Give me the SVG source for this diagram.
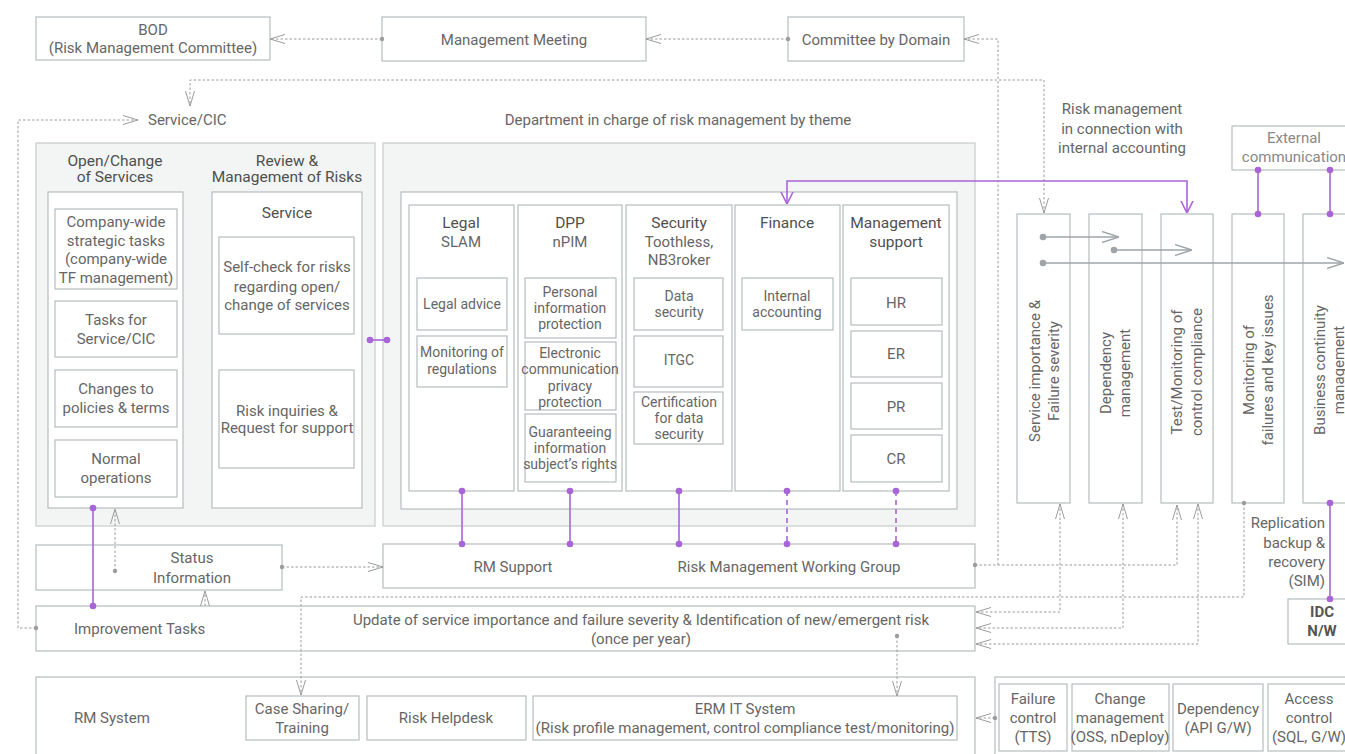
<svg xmlns="http://www.w3.org/2000/svg" width="1345" height="754" viewBox="0 0 1345 754">
<defs>
<style>
text{font-family:Roboto,"Noto Sans","Liberation Sans",sans-serif;font-size:15px;fill:#666;text-anchor:middle}
.s{font-size:14px}
.l{text-anchor:start}
.r{text-anchor:end}
.h{fill:#4f4f4f;font-size:15.5px}
.b{font-weight:700;fill:#555}
.box{fill:#fff;stroke:#b7bcbf;stroke-width:1.2}
.pan{fill:#f3f5f4;stroke:#c8cccc;stroke-width:1.2}
.d{fill:none;stroke:#9c9c9c;stroke-width:1;stroke-dasharray:2.5 2}
.g{fill:none;stroke:#9ea4a7;stroke-width:1.6}
.p{fill:none;stroke:#a865d8;stroke-width:1.6}
.pd{fill:none;stroke:#a865d8;stroke-width:1.6;stroke-dasharray:5 4}
</style>
<marker id="ah" viewBox="0 0 15 10" refX="15" refY="5" markerWidth="15" markerHeight="10" orient="auto-start-reverse" markerUnits="userSpaceOnUse"><path d="M0,0.5 L15,5 L0,9.5" fill="none" stroke="#9c9c9c" stroke-width="1"/></marker>
<marker id="ag" viewBox="0 0 17 12" refX="17" refY="6" markerWidth="17" markerHeight="12" orient="auto-start-reverse" markerUnits="userSpaceOnUse"><path d="M0,0.5 L17,6 L0,11.5" fill="none" stroke="#9ea4a7" stroke-width="1.4"/></marker>
<marker id="ap" viewBox="0 0 12 18" refX="12" refY="9" markerWidth="12" markerHeight="18" orient="auto-start-reverse" markerUnits="userSpaceOnUse"><path d="M0,3 L12,9 L0,15" fill="none" stroke="#a865d8" stroke-width="1.6"/></marker>
<marker id="dg" viewBox="0 0 6 6" refX="3" refY="3" markerWidth="6" markerHeight="6" markerUnits="userSpaceOnUse"><circle cx="3" cy="3" r="2.2" fill="#9c9c9c"/></marker>
<marker id="dg2" viewBox="0 0 8 8" refX="4" refY="4" markerWidth="8" markerHeight="8" markerUnits="userSpaceOnUse"><circle cx="4" cy="4" r="3.3" fill="#9ea4a7"/></marker>
<marker id="dp" viewBox="0 0 8 8" refX="4" refY="4" markerWidth="8" markerHeight="8" markerUnits="userSpaceOnUse"><circle cx="4" cy="4" r="3.3" fill="#a865d8"/></marker>
</defs>
<rect width="1345" height="754" fill="#fff"/>

<g id="bod"><rect class="box" x="36" y="17" width="234" height="43"/><text x="153" y="35">BOD</text><text x="153" y="53">(Risk Management Committee)</text></g>
<g id="mgmt-meeting"><rect class="box" x="382" y="17" width="264" height="44"/><text x="514" y="45">Management Meeting</text></g>
<g id="committee"><rect class="box" x="788" y="17" width="176" height="44"/><text x="876" y="45">Committee by Domain</text></g>
<g id="service-cic"><text class="l" x="148" y="125">Service/CIC</text></g>
<g id="dept-title"><text x="678" y="125">Department in charge of risk management by theme</text></g>
<g id="rm-accounting"><text x="1122" y="114">Risk management</text><text x="1122" y="134">in connection with</text><text x="1122" y="153">internal accounting</text></g>
<g id="external"><rect class="box" x="1232" y="126" width="120" height="44"/><text x="1294" y="143" style="fill:#888">External</text><text x="1294" y="162" style="fill:#888">communication</text></g>

<g id="left-panel">
<rect class="pan" x="36" y="143" width="339" height="383"/>
<text class="h" x="115" y="166">Open/Change</text><text class="h" x="115" y="182">of Services</text>
<text class="h" x="287" y="166">Review &amp;</text><text class="h" x="287" y="182">Management of Risks</text>
<rect class="box" x="48" y="192" width="135" height="316"/>
<rect class="box" x="212" y="192" width="150" height="316"/>
<text class="h" x="287" y="218">Service</text>
</g>
<g id="company-wide"><rect class="box" x="55" y="209" width="122" height="80"/><text x="116" y="227">Company-wide</text><text x="116" y="246">strategic tasks</text><text x="116" y="264">(company-wide</text><text x="116" y="283">TF management)</text></g>
<g id="tasks-service"><rect class="box" x="55" y="301" width="122" height="56"/><text x="116" y="325">Tasks for</text><text x="116" y="344">Service/CIC</text></g>
<g id="changes-policies"><rect class="box" x="55" y="370" width="122" height="57"/><text x="116" y="394">Changes to</text><text x="116" y="413">policies &amp; terms</text></g>
<g id="normal-ops"><rect class="box" x="55" y="440" width="122" height="57"/><text x="116" y="464">Normal</text><text x="116" y="483">operations</text></g>
<g id="self-check"><rect class="box" x="219" y="237" width="135" height="97"/><text x="287" y="272">Self-check for risks</text><text x="287" y="292">regarding open/</text><text x="287" y="310">change of services</text></g>
<g id="risk-inquiries"><rect class="box" x="219" y="370" width="135" height="98"/><text x="287" y="416">Risk inquiries &amp;</text><text x="287" y="433">Request for support</text></g>

<g id="middle-panel">
<rect class="pan" x="383" y="143" width="592" height="383"/>
<rect class="box" x="401" y="192" width="556" height="317"/>
</g>
<g id="legal"><rect class="box" x="409" y="205" width="105" height="286"/><text class="h" x="461" y="228">Legal</text><text x="461" y="247">SLAM</text>
<rect class="box" x="417" y="278" width="90" height="52"/><text class="s" x="462" y="309">Legal advice</text>
<rect class="box" x="417" y="336" width="90" height="51"/><text class="s" x="462" y="357">Monitoring of</text><text class="s" x="462" y="374">regulations</text></g>
<g id="dpp"><rect class="box" x="518" y="205" width="104" height="286"/><text class="h" x="570" y="228">DPP</text><text x="570" y="247">nPIM</text>
<rect class="box" x="525" y="278" width="91" height="60"/><text class="s" x="570" y="297">Personal</text><text class="s" x="570" y="313">information</text><text class="s" x="570" y="329">protection</text>
<rect class="box" x="525" y="342" width="91" height="68"/><text class="s" x="570" y="358">Electronic</text><text class="s" x="570" y="374">communication</text><text class="s" x="570" y="391">privacy</text><text class="s" x="570" y="407">protection</text>
<rect class="box" x="525" y="414" width="91" height="68"/><text class="s" x="570" y="437">Guaranteeing</text><text class="s" x="570" y="453">information</text><text class="s" x="570" y="469">subject’s rights</text></g>
<g id="security"><rect class="box" x="626" y="205" width="106" height="286"/><text class="h" x="679" y="228">Security</text><text x="679" y="247">Toothless,</text><text x="679" y="265">NB3roker</text>
<rect class="box" x="634" y="278" width="89" height="52"/><text class="s" x="679" y="301">Data</text><text class="s" x="679" y="317">security</text>
<rect class="box" x="634" y="336" width="89" height="51"/><text class="s" x="679" y="365">ITGC</text>
<rect class="box" x="634" y="392" width="89" height="52"/><text class="s" x="679" y="407">Certification</text><text class="s" x="679" y="423">for data</text><text class="s" x="679" y="439">security</text></g>
<g id="finance"><rect class="box" x="735" y="205" width="105" height="286"/><text class="h" x="787" y="228">Finance</text>
<rect class="box" x="742" y="278" width="91" height="52"/><text class="s" x="787" y="301">Internal</text><text class="s" x="787" y="317">accounting</text></g>
<g id="mgmt-support"><rect class="box" x="843" y="205" width="106" height="286"/><text class="h" x="896" y="228">Management</text><text class="h" x="896" y="247">support</text>
<rect class="box" x="851" y="278" width="91" height="47"/><text x="896" y="308">HR</text>
<rect class="box" x="851" y="331" width="91" height="46"/><text x="896" y="359">ER</text>
<rect class="box" x="851" y="383" width="91" height="46"/><text x="896" y="412">PR</text>
<rect class="box" x="851" y="435" width="91" height="47"/><text x="896" y="464">CR</text></g>

<g id="col-service-importance"><rect class="box" x="1017" y="214" width="53" height="289"/><text transform="translate(1040,371) rotate(-90)">Service importance &amp;</text><text transform="translate(1059,371) rotate(-90)">Failure severity</text></g>
<g id="col-dependency"><rect class="box" x="1089" y="214" width="53" height="289"/><text transform="translate(1111,373) rotate(-90)">Dependency</text><text transform="translate(1130,373) rotate(-90)">management</text></g>
<g id="col-test"><rect class="box" x="1161" y="214" width="52" height="289"/><text transform="translate(1182,372) rotate(-90)">Test/Monitoring of</text><text transform="translate(1202,372) rotate(-90)">control compliance</text></g>
<g id="col-monitoring"><rect class="box" x="1232" y="214" width="52" height="289"/><text transform="translate(1254,370) rotate(-90)">Monitoring of</text><text transform="translate(1273,370) rotate(-90)">failures and key issues</text></g>
<g id="col-bcm"><rect class="box" x="1303" y="214" width="60" height="289"/><text transform="translate(1325,370) rotate(-90)">Business continuity</text><text transform="translate(1344,370) rotate(-90)">management</text></g>

<g id="status-info"><rect class="box" x="36" y="545" width="246" height="45"/><text x="192" y="563">Status</text><text x="192" y="583">Information</text></g>
<g id="rm-support"><rect class="box" x="383" y="544" width="592" height="44"/><text x="513" y="572">RM Support</text><text x="789" y="572">Risk Management Working Group</text></g>
<g id="improvement"><rect class="box" x="36" y="606" width="939" height="45"/><text class="l" x="74" y="634">Improvement Tasks</text><text x="641" y="625">Update of service importance and failure severity &amp; Identification of new/emergent risk</text><text x="641" y="644">(once per year)</text></g>
<g id="replication"><text class="r" x="1325" y="528">Replication</text><text class="r" x="1325" y="548">backup &amp;</text><text class="r" x="1325" y="567">recovery</text><text class="r" x="1325" y="586">(SIM)</text></g>
<g id="idc"><rect class="box" x="1288" y="599" width="70" height="45"/><text class="b" x="1322" y="617">IDC</text><text class="b" x="1322" y="636">N/W</text></g>

<g id="rm-system"><rect class="box" x="36" y="677" width="939" height="90"/><text class="l" x="74" y="723">RM System</text>
<rect class="box" x="246" y="696" width="113" height="44"/><text x="302" y="714">Case Sharing/</text><text x="302" y="733">Training</text>
<rect class="box" x="367" y="696" width="159" height="44"/><text x="446" y="723">Risk Helpdesk</text>
<rect class="box" x="533" y="696" width="424" height="44"/><text x="745" y="714">ERM IT System</text><text x="745" y="733">(Risk profile management, control compliance test/monitoring)</text></g>
<g id="it-controls"><rect class="box" x="995" y="677" width="360" height="90"/>
<rect class="box" x="999" y="684" width="68" height="67"/><text x="1033" y="704">Failure</text><text x="1033" y="723">control</text><text x="1033" y="742">(TTS)</text>
<rect class="box" x="1072" y="684" width="97" height="67"/><text x="1120" y="704">Change</text><text x="1120" y="723">management</text><text x="1120" y="742">(OSS, nDeploy)</text>
<rect class="box" x="1173" y="684" width="90" height="67"/><text x="1218" y="714">Dependency</text><text x="1218" y="733">(API G/W)</text>
<rect class="box" x="1268" y="684" width="90" height="67"/><text x="1309" y="704">Access</text><text x="1309" y="723">control</text><text x="1309" y="742">(SQL, G/W)</text></g>

<g id="connectors">
<path class="d" d="M382,39 H270" marker-start="url(#dg)" marker-end="url(#ah)"/>
<path class="d" d="M788,39 H646" marker-start="url(#dg)" marker-end="url(#ah)"/>
<path class="d" d="M998,565 V39 H964" marker-end="url(#ah)"/>
<path class="d" d="M975,565 H1177 V505" marker-start="url(#dg)" marker-end="url(#ah)"/>
<path class="d" d="M1044,213 V80 H190 V106" marker-start="url(#ah)" marker-end="url(#ah)"/>
<path class="d" d="M36,628 H18 V120 H138" marker-start="url(#dg)" marker-end="url(#ah)"/>
<path class="d" d="M115,571 V509" marker-start="url(#dg)" marker-end="url(#ah)"/>
<path class="d" d="M205,606 V591" marker-end="url(#ah)"/>
<path class="d" d="M282,567 H383" marker-start="url(#dg)" marker-end="url(#ah)"/>
<path class="d" d="M1244,503 V597 H301 V695" marker-start="url(#dg)" marker-end="url(#ah)"/>
<path class="d" d="M897,636 V696" marker-start="url(#dg)" marker-end="url(#ah)"/>
<path class="d" d="M1060,504 V612 H976" marker-start="url(#ah)" marker-end="url(#ah)"/>
<path class="d" d="M1123,504 V628 H976" marker-start="url(#ah)" marker-end="url(#ah)"/>
<path class="d" d="M1198,504 V644 H976" marker-start="url(#ah)" marker-end="url(#ah)"/>
<path class="d" d="M995,718 H976" marker-start="url(#dg)" marker-end="url(#ah)"/>
<path class="g" d="M1043,237 H1119" marker-start="url(#dg2)" marker-end="url(#ag)"/>
<path class="g" d="M1114,250 H1192" marker-start="url(#dg2)" marker-end="url(#ag)"/>
<path class="g" d="M1043,263 H1344" marker-start="url(#dg2)" marker-end="url(#ag)"/>
<path class="p" d="M370,340 H387" marker-start="url(#dp)" marker-end="url(#dp)"/>
<path class="p" d="M462,491 V544" marker-start="url(#dp)" marker-end="url(#dp)"/>
<path class="p" d="M570,491 V544" marker-start="url(#dp)" marker-end="url(#dp)"/>
<path class="p" d="M679,491 V544" marker-start="url(#dp)" marker-end="url(#dp)"/>
<path class="pd" d="M787,491 V544" marker-start="url(#dp)" marker-end="url(#dp)"/>
<path class="pd" d="M896,491 V544" marker-start="url(#dp)" marker-end="url(#dp)"/>
<path class="p" d="M93,508 V606" marker-start="url(#dp)" marker-end="url(#dp)"/>
<path class="p" d="M787,204 V181 H1187 V213" marker-start="url(#ap)" marker-end="url(#ap)"/>
<path class="p" d="M1258,170 V214" marker-start="url(#dp)" marker-end="url(#dp)"/>
<path class="p" d="M1330,170 V214" marker-start="url(#dp)" marker-end="url(#dp)"/>
<path class="p" d="M1330,503 V599" marker-start="url(#dp)" marker-end="url(#dp)"/>
</g>
</svg>
